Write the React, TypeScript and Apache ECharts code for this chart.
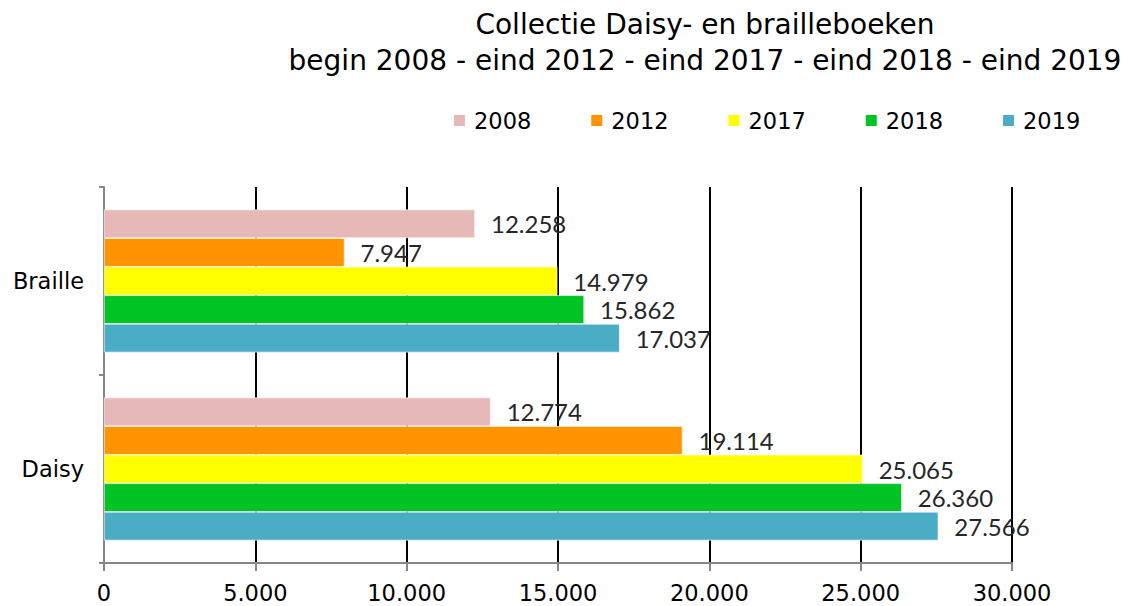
import React, { useEffect, useRef } from "react";
import * as echarts from "echarts";

const categories = ["Braille", "Daisy"];
const years = ["2008", "2012", "2017", "2018", "2019"];
const colors = ["#E6B8B7", "#FF9400", "#FFFF00", "#00C425", "#4BACC6"];
const values2008 = [12258, 12774];
const values2012 = [7947, 19114];
const values2017 = [14979, 25065];
const values2018 = [15862, 26360];
const values2019 = [17037, 27566];
const seriesValues = [values2008, values2012, values2017, values2018, values2019];

const fmt = (v: number) => {
  const s = Math.round(v).toString();
  return s.replace(/\B(?=(\d{3})+(?!\d))/g, ".");
};

export default function App() {
  const ref = useRef<HTMLDivElement>(null);
  useEffect(() => {
    if (!ref.current) return;
    const chart = echarts.init(ref.current, undefined, { renderer: "svg" });
    chart.setOption({
      animation: false,
      backgroundColor: "#ffffff",
      title: {
        text: "Collectie Daisy- en brailleboeken\nbegin 2008 - eind 2012 - eind 2017 - eind 2018 - eind 2019",
        left: 700,
        textAlign: "center",
        top: 1,
        textStyle: {
          fontFamily: "DejaVu Sans",
          fontSize: 28,
          fontWeight: "normal",
          color: "#000",
          lineHeight: 36,
        },
      },
      legend: {
        data: years,
        left: 452,
        top: 109,
        padding: 0,
        itemWidth: 13,
        itemHeight: 13,
        itemGap: 58,
        icon: "rect",
        textStyle: { fontFamily: "DejaVu Sans", fontSize: 22.5, color: "#000", padding: [0, 0, 0, 3] },
      },
      grid: { left: 104, right: 120, top: 187, bottom: 43, containLabel: false },
      xAxis: {
        type: "value",
        min: 0,
        max: 30000,
        interval: 5000,
        axisLine: { show: true, lineStyle: { color: "#868686", width: 2 } },
        axisTick: { show: true, length: 8, lineStyle: { color: "#868686", width: 2 } },
        splitLine: { show: true, lineStyle: { color: "#000", width: 2 } },
        axisLabel: {
          formatter: (v: number) => fmt(v),
          fontFamily: "DejaVu Sans",
          fontSize: 22.5,
          color: "#000",
          margin: 18,
        },
      },
      yAxis: {
        type: "category",
        data: categories,
        inverse: true,
        axisLine: { show: true, lineStyle: { color: "#868686", width: 2 } },
        axisTick: { show: true, length: 5, lineStyle: { color: "#868686", width: 2 } },
        axisLabel: { fontFamily: "DejaVu Sans", fontSize: 22.5, color: "#000", margin: 20 },
        splitLine: { show: false },
      },
      series: years.map((y, i) => ({
        name: y,
        type: "bar",
        data: seriesValues[i],
        barGap: "0%",
        barCategoryGap: "24%",
        itemStyle: { color: colors[i], borderColor: "#ffffff", borderWidth: 0.6 },
        label: {
          show: true,
          position: "right",
          distance: 16,
          formatter: (p: any) => fmt(p.value),
          fontFamily: "Lato",
          fontSize: 24,
          color: "#262626",
        },
      })),
    });
    return () => chart.dispose();
  }, []);
  return (
    <div
      ref={ref}
      style={{ position: "fixed", left: 0, top: 0, width: 1132, height: 606 }}
    />
  );
}
